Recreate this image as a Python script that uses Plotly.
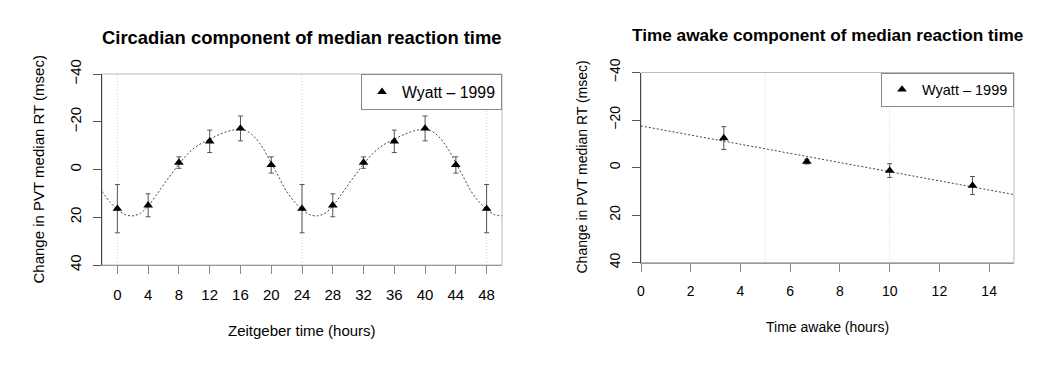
import plotly.graph_objects as go

# ---------------- data ----------------
# Left panel: circadian component
zt_hours = [0, 4, 8, 12, 16, 20, 24, 28, 32, 36, 40, 44, 48]
zt_change = [16.4, 15.0, -2.9, -11.8, -17.2, -1.9, 16.4, 15.0, -2.9, -11.8, -17.2, -1.9, 16.4]
zt_err = [10.1, 4.8, 2.4, 4.7, 5.2, 3.4, 10.1, 4.8, 2.4, 4.7, 5.2, 3.4, 10.1]

# fitted curve, sampled hourly from -2 to 50 h
curve_x = list(range(-2, 51))
curve_y = [9.2, 13.5,
           16.7, 18.9, 19.4, 18.3, 15.3, 11.0, 6.4, 2.0, -2.2, -6.0, -9.0, -11.1,
           -12.7, -14.3, -15.6, -16.5, -16.8, -15.8, -13.0, -8.5, -2.7, 3.2, 9.2, 13.5,
           16.7, 18.9, 19.4, 18.3, 15.3, 11.0, 6.4, 2.0, -2.2, -6.0, -9.0, -11.1,
           -12.7, -14.3, -15.6, -16.5, -16.8, -15.8, -13.0, -8.5, -2.7, 3.2, 9.2, 13.5,
           16.7, 18.9, 19.4]

# Right panel: time-awake component
awake_hours = [3.33, 6.67, 10.0, 13.33]
awake_change = [-12.4, -2.5, 1.3, 7.6]
awake_err = [4.8, 1.0, 2.9, 3.8]
fit_x = [0, 15]
fit_y = [-17.5, 11.4]

# axes ticks / ranges / grid
left_xticks = [0, 4, 8, 12, 16, 20, 24, 28, 32, 36, 40, 44, 48]
right_xticks = [0, 2, 4, 6, 8, 10, 12, 14]
y_ticks = [-40, -20, 0, 20, 40]
left_grid = [0, 24, 48]
right_grid = [5, 10]

series_name = "Wyatt – 1999"
title_left = "Circadian component of median reaction time"
title_right = "Time awake component of median reaction time"
ylab = "Change in PVT median RT (msec)"
xlab_left = "Zeitgeber time (hours)"
xlab_right = "Time awake (hours)"

# ---------------- figure ----------------
# page body has an 8px margin, so the figure is drawn 8px smaller and
# all reference pixel positions are shifted by 8px
OFF = 8
W, H = 1063 - OFF, 367 - OFF
FONT = "Liberation Sans, Arial, Helvetica, sans-serif"

# the left panel is rendered slightly larger than the right one
FS_L = dict(tick=15, lab=15, leg=15.8, title=18.4)
FS_R = dict(tick=14, lab=14, leg=14.5, title=17.2)

def px_x(p):
    return (p - OFF) / W

def px_y(p):
    return (H - (p - OFF)) / H

fig = go.Figure()

line_style = dict(color="#444444", width=1, dash="2px,2px")
err_style = dict(color="#555555", thickness=1, width=2.5)

fig.add_trace(go.Scatter(x=curve_x, y=curve_y, mode="lines", line=dict(shape="spline", **line_style),
                         showlegend=False, hoverinfo="skip", xaxis="x", yaxis="y"))
fig.add_trace(go.Scatter(x=zt_hours, y=zt_change, mode="markers", name=series_name,
                         marker=dict(symbol="triangle-up", size=8.5, color="black"),
                         error_y=dict(type="data", array=zt_err, visible=True, **err_style),
                         xaxis="x", yaxis="y", legend="legend"))

fig.add_trace(go.Scatter(x=fit_x, y=fit_y, mode="lines", line=line_style,
                         showlegend=False, hoverinfo="skip", xaxis="x2", yaxis="y2"))
fig.add_trace(go.Scatter(x=awake_hours, y=awake_change, mode="markers", name=series_name,
                         marker=dict(symbol="triangle-up", size=8.5, color="black"),
                         error_y=dict(type="data", array=awake_err, visible=True, **err_style),
                         xaxis="x2", yaxis="y2", legend="legend2"))

L_dom_x = [px_x(102), px_x(502)]
L_dom_y = [px_y(265), px_y(74)]
R_dom_x = [px_x(641), px_x(1014)]
R_dom_y = [px_y(262.5), px_y(72.5)]

def xcommon(fs):
    return dict(ticks="outside", ticklen=8, tickcolor="#888888", showline=True, linecolor="#999999",
                linewidth=1, showgrid=False, zeroline=False,
                tickfont=dict(family=FONT, size=fs, color="black"), ticklabelstandoff=8)

def ycommon(fs):
    return dict(ticks="outside", ticklen=8, tickcolor="#555555", showline=True, linecolor="#444444",
                linewidth=1, showgrid=False, zeroline=False, tickangle=-90,
                tickvals=y_ticks, range=[40, -40],
                tickfont=dict(family=FONT, size=fs, color="black"), ticklabelstandoff=6)

fig.update_layout(
    xaxis=dict(domain=L_dom_x, range=[-2, 50], tickvals=left_xticks, anchor="y", **xcommon(FS_L["tick"])),
    yaxis=dict(domain=L_dom_y, anchor="x", **ycommon(FS_L["tick"])),
    xaxis2=dict(domain=R_dom_x, range=[0, 15], tickvals=right_xticks, anchor="y2", **xcommon(FS_R["tick"])),
    yaxis2=dict(domain=R_dom_y, anchor="x2", **ycommon(FS_R["tick"])),
)

# plot boxes
for xr, yr in (("x domain", "y domain"), ("x2 domain", "y2 domain")):
    fig.add_shape(type="rect", xref=xr, yref=yr, x0=0, x1=1, y0=0, y1=1,
                  line=dict(color="#bbbbbb", width=1), layer="below")

# dotted vertical grid lines
for g in left_grid:
    fig.add_shape(type="line", xref="x", yref="y domain", x0=g, x1=g, y0=0, y1=1,
                  line=dict(color="#d0d0d0", width=1, dash="1px,2px"), layer="below")
for g in right_grid:
    fig.add_shape(type="line", xref="x2", yref="y2 domain", x0=g, x1=g, y0=0, y1=1,
                  line=dict(color="#d0d0d0", width=1, dash="1px,2px"), layer="below")

legend_common = dict(bgcolor="white", bordercolor="#888888", borderwidth=1,
                     xanchor="right", yanchor="top")
fig.update_layout(
    legend=dict(x=L_dom_x[1], y=L_dom_y[1], font=dict(family=FONT, size=FS_L["leg"], color="black"),
                **legend_common),
    legend2=dict(x=R_dom_x[1], y=R_dom_y[1], font=dict(family=FONT, size=FS_R["leg"], color="black"),
                 **legend_common),
)

ann = []
ann.append(dict(text="<b>" + title_left + "</b>", x=px_x(302), y=px_y(37),
                font=dict(family=FONT, size=FS_L["title"], color="black")))
ann.append(dict(text="<b>" + title_right + "</b>", x=px_x(827.5), y=px_y(35.5),
                font=dict(family=FONT, size=FS_R["title"], color="black")))
ann.append(dict(text=xlab_left, x=px_x(302), y=px_y(330),
                font=dict(family=FONT, size=FS_L["lab"], color="black")))
ann.append(dict(text=xlab_right, x=px_x(827.5), y=px_y(326.5),
                font=dict(family=FONT, size=FS_R["lab"], color="black")))
ann.append(dict(text=ylab, x=px_x(38), y=px_y(169.5), textangle=-90,
                font=dict(family=FONT, size=FS_L["lab"], color="black")))
ann.append(dict(text=ylab, x=px_x(582), y=px_y(167.5), textangle=-90,
                font=dict(family=FONT, size=FS_R["lab"], color="black")))
for a in ann:
    a.update(xref="paper", yref="paper", xanchor="center", yanchor="middle", showarrow=False)
fig.update_layout(annotations=ann)

fig.update_layout(
    width=W, height=H,
    margin=dict(l=0, r=0, t=0, b=0, autoexpand=False),
    paper_bgcolor="white", plot_bgcolor="white",
    font=dict(family=FONT, color="black"),
)

fig.write_html("out.html")
